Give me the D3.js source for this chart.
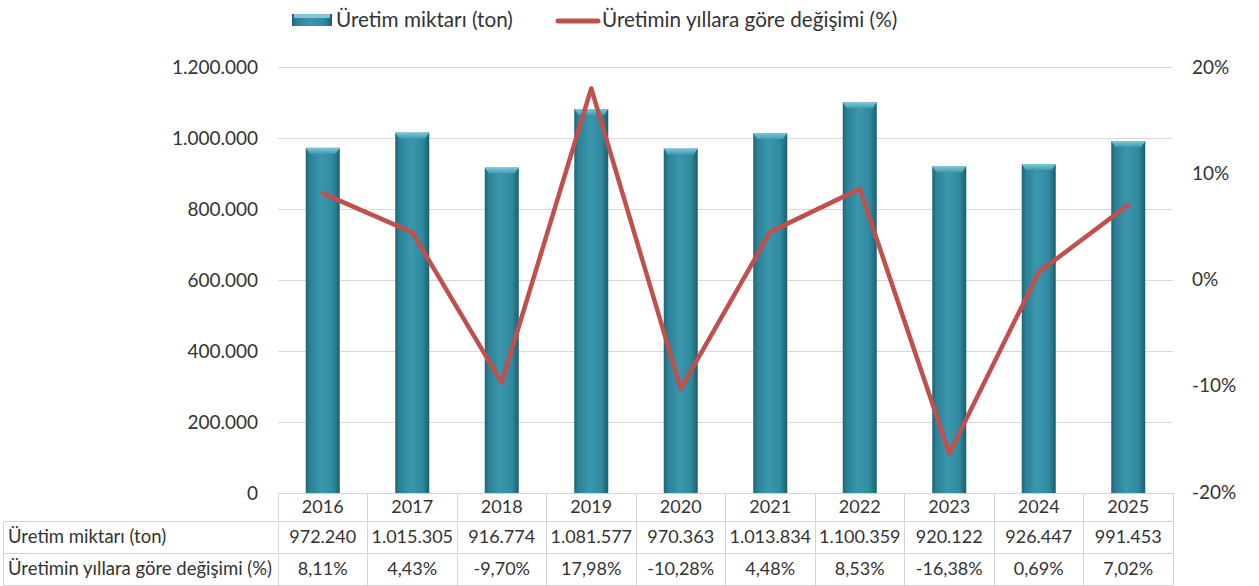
<!DOCTYPE html>
<html>
<head>
<meta charset="utf-8">
<script src="https://cdn.jsdelivr.net/npm/d3@7"></script>
<style>
  body { margin: 0; background: #fff; }
  svg { display: block; font-family: Lato, "Open Sans", sans-serif; }
</style>
</head>
<body>
<div id="viz"></div>
<script>
// data
const years = ["2016", "2017", "2018", "2019", "2020", "2021", "2022", "2023", "2024", "2025"];
const production = [972240, 1015305, 916774, 1081577, 970363, 1013834, 1100359, 920122, 926447, 991453];
const change = [8.11, 4.43, -9.70, 17.98, -10.28, 4.48, 8.53, -16.38, 0.69, 7.02];
const leftTicks = [0, 200000, 400000, 600000, 800000, 1000000, 1200000];
const rightTicks = [-20, -10, 0, 10, 20];
const barName = "Üretim miktarı (ton)";
const lineName = "Üretimin yıllara göre değişimi (%)";

const W = 1259, H = 586;
const plot = {left: 278, right: 1173, top: 67, bottom: 493};
const rowY = [493, 521, 553, 585];
const tableLeft = 3;

const tr = d3.formatLocale({decimal: ",", thousands: ".", grouping: [3], currency: ["", " TL"], minus: "-"});
const fmtInt = tr.format(",d");
const fmtPct = tr.format(".2f");

const svg = d3.select("#viz").append("svg").attr("width", W).attr("height", H);

const defs = svg.append("defs");
const sideGrad = defs.append("linearGradient").attr("id", "barSide").attr("x1", 0).attr("x2", 1).attr("y1", 0).attr("y2", 0);
[[0, "#1d6576"], [0.12, "#2c8196"], [0.45, "#3b97ad"], [0.8, "#308a9f"], [1, "#1b5e6e"]]
  .forEach(([o, c]) => sideGrad.append("stop").attr("offset", o).attr("stop-color", c));
const topGrad = defs.append("linearGradient").attr("id", "barTop").attr("x1", 0).attr("x2", 0).attr("y1", 0).attr("y2", 1);
[[0, "#7cc7d8"], [1, "#3f9bb0"]].forEach(([o, c]) => topGrad.append("stop").attr("offset", o).attr("stop-color", c));

const x = d3.scaleBand().domain(years).range([plot.left, plot.right]).padding(0);
const barW = x.bandwidth() * 0.38;
const yL = d3.scaleLinear().domain([0, 1200000]).range([plot.bottom, plot.top]);
const yR = d3.scaleLinear().domain([-20, 20]).range([plot.bottom - 1, plot.top]);

// gridlines
svg.append("g").selectAll("line").data(leftTicks.filter(d => d > 0)).join("line")
  .attr("x1", plot.left).attr("x2", plot.right)
  .attr("y1", d => Math.round(yL(d)) + 0.5).attr("y2", d => Math.round(yL(d)) + 0.5)
  .attr("stroke", "#d9d9d9").attr("stroke-width", 1);

// left axis labels
svg.append("g").selectAll("text").data(leftTicks).join("text")
  .attr("x", 258).attr("y", d => yL(d)).attr("dy", "0.35em")
  .attr("text-anchor", "end").attr("font-size", 19).attr("fill", "#333")
  .text(d => fmtInt(d));

// right axis labels
svg.append("g").selectAll("text").data(rightTicks).join("text")
  .attr("x", 1192).attr("y", d => yR(d)).attr("dy", "0.35em")
  .attr("text-anchor", "start").attr("font-size", 19).attr("fill", "#333")
  .text(d => d + "%");

// bars
const bars = svg.append("g").selectAll("g").data(production).join("g")
  .attr("transform", (d, i) => `translate(${x(years[i]) + (x.bandwidth() - barW) / 2},0)`);
bars.append("rect")
  .attr("y", d => yL(d)).attr("width", barW).attr("height", d => plot.bottom - yL(d))
  .attr("fill", "url(#barSide)");
bars.append("path")
  .attr("d", d => {
    const t = yL(d), b = 6;
    return `M0,${t}H${barW}L${barW - 4},${t + b}H4Z`;
  })
  .attr("fill", "url(#barTop)");

// line
const line = d3.line().x((d, i) => x(years[i]) + x.bandwidth() / 2).y(d => yR(d));
svg.append("path").datum(change)
  .attr("d", line).attr("fill", "none")
  .attr("stroke", "#c0504d").attr("stroke-width", 4.5)
  .attr("stroke-linejoin", "round").attr("stroke-linecap", "round");

// data table
const grid = "#d4d4d4";
const tbl = svg.append("g").attr("stroke", grid).attr("stroke-width", 1).attr("shape-rendering", "crispEdges");
tbl.append("line").attr("x1", plot.left).attr("x2", plot.right).attr("y1", rowY[0]).attr("y2", rowY[0]);
rowY.slice(1).forEach(yy => tbl.append("line").attr("x1", tableLeft).attr("x2", plot.right).attr("y1", yy).attr("y2", yy));
tbl.append("line").attr("x1", tableLeft).attr("x2", tableLeft).attr("y1", rowY[1]).attr("y2", rowY[3]);
years.concat(["end"]).forEach((yr, i) => {
  const xx = plot.left + i * x.step();
  tbl.append("line").attr("x1", xx).attr("x2", xx).attr("y1", rowY[0]).attr("y2", rowY[3]);
});

const cellText = (rowIdx, vals, fmt) => svg.append("g").selectAll("text").data(vals).join("text")
  .attr("x", (d, i) => x(years[i]) + x.bandwidth() / 2)
  .attr("y", (rowY[rowIdx] + rowY[rowIdx + 1]) / 2).attr("dy", "0.35em")
  .attr("text-anchor", "middle").attr("font-size", 18).attr("fill", "#333")
  .text(fmt);
cellText(0, years, d => d);
cellText(1, production, d => fmtInt(d));
cellText(2, change, d => fmtPct(d) + "%");

[barName, lineName].forEach((t, i) => {
  svg.append("text").attr("x", 8).attr("y", (rowY[i + 1] + rowY[i + 2]) / 2).attr("dy", "0.35em")
    .attr("font-size", 18.5).attr("fill", "#333").text(t);
});

// legend
const lg = svg.append("g");
lg.append("rect").attr("x", 292).attr("y", 14).attr("width", 40).attr("height", 12).attr("fill", "url(#barSide)");
lg.append("rect").attr("x", 294).attr("y", 14).attr("width", 36).attr("height", 4).attr("fill", "#7cc7d8");
lg.append("text").attr("x", 336).attr("y", 20).attr("dy", "0.35em").attr("font-size", 20.7).attr("fill", "#333").text(barName);
lg.append("line").attr("x1", 558).attr("x2", 598).attr("y1", 21).attr("y2", 21)
  .attr("stroke", "#c0504d").attr("stroke-width", 5).attr("stroke-linecap", "round");
lg.append("text").attr("x", 602).attr("y", 20).attr("dy", "0.35em").attr("font-size", 20.7).attr("fill", "#333").text(lineName);
</script>
</body>
</html>
